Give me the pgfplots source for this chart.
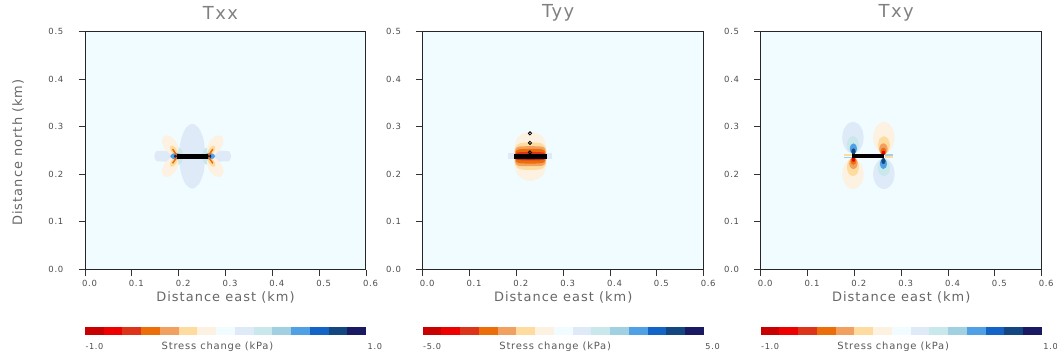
\documentclass[border=0pt]{standalone}
\usepackage{fontspec}
\setmainfont{DejaVu Sans}[LetterSpace=8]
\usepackage{pgfplots}
\pgfplotsset{compat=1.18}
\definecolor{c1}{HTML}{C80000}
\definecolor{c2}{HTML}{EE0000}
\definecolor{c3}{HTML}{DD3318}
\definecolor{c4}{HTML}{EB6E0A}
\definecolor{c5}{HTML}{F2A05F}
\definecolor{c6}{HTML}{FEDCA0}
\definecolor{c7}{HTML}{FDF2E1}
\definecolor{c8}{HTML}{F0FCFF}
\definecolor{c9}{HTML}{DEEAF8}
\definecolor{c10}{HTML}{C8E8EB}
\definecolor{c11}{HTML}{A0D0E1}
\definecolor{c12}{HTML}{50A0E6}
\definecolor{c13}{HTML}{1464C8}
\definecolor{c14}{HTML}{144682}
\definecolor{c15}{HTML}{191964}
\pgfplotsset{
  panel/.style={
    scale only axis, width=281bp, height=238bp, anchor=south west,
    xmin=0, xmax=0.6, ymin=0, ymax=0.5,
    axis background/.style={fill=c8},
    xtick={0,0.1,0.2,0.3,0.4,0.5,0.6},
    ytick={0,0.1,0.2,0.3,0.4,0.5},
    xticklabels={0.0,0.1,0.2,0.3,0.4,0.5,0.6},
    yticklabels={0.0,0.1,0.2,0.3,0.4,0.5},
    tick align=outside, tick pos=left, major tick length=6.5bp,
    tick style={color=black!80, line width=0.8bp},
    axis line style={black!85, line width=1bp},
    ticklabel style={font=\fontsize{8.5}{9}\selectfont, text=black!70},
    xticklabel style={anchor=north, inner sep=0pt, yshift=-4.5bp, xshift=4.5bp},
    yticklabel style={anchor=east, inner sep=0pt, xshift=-15bp},
    title style={font=\fontsize{18}{20}\selectfont, text=black!50, at={(0.5,1)}, anchor=center, yshift=13bp, xshift=-5bp},
    xlabel={Distance east (km)},
    xlabel style={font=\fontsize{13}{15}\selectfont, text=black!60, at={(0.5,0)}, anchor=center, yshift=-27.5bp},
    axis on top, clip=true,
  },
  blob/.style={fill=#1, draw=none, smooth},
  cbar/.style={
    scale only axis, width=281bp, height=8.3bp, anchor=south west,
    xmin=0, xmax=15, ymin=0, ymax=1, hide axis, clip=false,
  },
}
\newcommand{\cbblocks}{%
  \addplot[fill=c1, draw=none] coordinates {(0,0)(1,0)(1,1)(0,1)};
  \addplot[fill=c2, draw=none] coordinates {(1,0)(2,0)(2,1)(1,1)};
  \addplot[fill=c3, draw=none] coordinates {(2,0)(3,0)(3,1)(2,1)};
  \addplot[fill=c4, draw=none] coordinates {(3,0)(4,0)(4,1)(3,1)};
  \addplot[fill=c5, draw=none] coordinates {(4,0)(5,0)(5,1)(4,1)};
  \addplot[fill=c6, draw=none] coordinates {(5,0)(6,0)(6,1)(5,1)};
  \addplot[fill=c7, draw=none] coordinates {(6,0)(7,0)(7,1)(6,1)};
  \addplot[fill=c8, draw=none] coordinates {(7,0)(8,0)(8,1)(7,1)};
  \addplot[fill=c9, draw=none] coordinates {(8,0)(9,0)(9,1)(8,1)};
  \addplot[fill=c10, draw=none] coordinates {(9,0)(10,0)(10,1)(9,1)};
  \addplot[fill=c11, draw=none] coordinates {(10,0)(11,0)(11,1)(10,1)};
  \addplot[fill=c12, draw=none] coordinates {(11,0)(12,0)(12,1)(11,1)};
  \addplot[fill=c13, draw=none] coordinates {(12,0)(13,0)(13,1)(12,1)};
  \addplot[fill=c14, draw=none] coordinates {(13,0)(14,0)(14,1)(13,1)};
  \addplot[fill=c15, draw=none] coordinates {(14,0)(15,0)(15,1)(14,1)};
}
\newcommand{\cblabels}[2]{%
  \node[anchor=base west, font=\fontsize{8.2}{9}\selectfont, text=black!70, xshift=-3bp, yshift=-14.5bp] at (rel axis cs:0,0) {#1};
  \node[anchor=base west, font=\fontsize{8.2}{9}\selectfont, text=black!70, xshift=-1.8bp, yshift=-14.5bp] at (rel axis cs:1,0) {#2};
  \node[anchor=base, font=\fontsize{10}{11}\selectfont, text=black!65, yshift=-14.5bp] at (rel axis cs:0.4715,0) {Stress change (kPa)};
}
\begin{document}
\begin{tikzpicture}
\useasboundingbox (0,0) rectangle (1057bp,360bp);

% ---------------- Txx ----------------
\begin{axis}[panel, at={(85bp,90.5bp)}, title={Txx},
  ylabel={Distance north (km)},
  ylabel style={font=\fontsize{13}{15}\selectfont, text=black!60, at={(0,0.5)}, anchor=center, yshift=67bp, xshift=-2bp}]
\addplot[blob=c9] coordinates {(0.312,0.238)(0.309,0.2465)(0.300,0.249)(0.230,0.249)(0.160,0.249)(0.151,0.2465)(0.148,0.238)(0.151,0.2295)(0.160,0.227)(0.230,0.227)(0.300,0.227)(0.309,0.2295)(0.312,0.238)};
\addplot[blob=c9] coordinates {(0.257,0.238)(0.2533,0.272)(0.243,0.2969)(0.229,0.306)(0.215,0.2969)(0.2048,0.272)(0.201,0.238)(0.2048,0.204)(0.215,0.1791)(0.229,0.170)(0.243,0.1791)(0.2533,0.204)(0.257,0.238)};
\addplot[blob=c10] coordinates {(0.210,0.238)(0.2068,0.2507)(0.199,0.256)(0.1912,0.2507)(0.188,0.238)(0.1912,0.2253)(0.199,0.220)(0.2068,0.2253)(0.210,0.238)};
\addplot[blob=c10] coordinates {(0.250,0.238)(0.2532,0.2507)(0.261,0.256)(0.2688,0.2507)(0.272,0.238)(0.2688,0.2253)(0.261,0.220)(0.2532,0.2253)(0.250,0.238)};
\addplot[blob=c7] coordinates {(0.1684,0.2808)(0.1642,0.2693)(0.1705,0.2531)(0.1835,0.2414)(0.1956,0.2413)(0.1998,0.2527)(0.1935,0.2690)(0.1805,0.2806)(0.1684,0.2808)};
\addplot[blob=c7] coordinates {(0.1684,0.1952)(0.1642,0.2067)(0.1705,0.2229)(0.1835,0.2346)(0.1956,0.2347)(0.1998,0.2233)(0.1935,0.2070)(0.1805,0.1954)(0.1684,0.1952)};
\addplot[blob=c7] coordinates {(0.2916,0.2808)(0.2958,0.2693)(0.2895,0.2531)(0.2765,0.2414)(0.2644,0.2413)(0.2602,0.2527)(0.2665,0.2690)(0.2795,0.2806)(0.2916,0.2808)};
\addplot[blob=c7] coordinates {(0.2916,0.1952)(0.2958,0.2067)(0.2895,0.2229)(0.2765,0.2346)(0.2644,0.2347)(0.2602,0.2233)(0.2665,0.2070)(0.2795,0.1954)(0.2916,0.1952)};
\addplot[blob=c6] coordinates {(0.1832,0.2599)(0.1817,0.2546)(0.1851,0.2466)(0.1913,0.2406)(0.1968,0.2401)(0.1983,0.2454)(0.1949,0.2534)(0.1887,0.2594)(0.1832,0.2599)};
\addplot[blob=c6] coordinates {(0.1832,0.2161)(0.1817,0.2214)(0.1851,0.2294)(0.1913,0.2354)(0.1968,0.2359)(0.1983,0.2306)(0.1949,0.2226)(0.1887,0.2166)(0.1832,0.2161)};
\addplot[blob=c6] coordinates {(0.2768,0.2599)(0.2783,0.2546)(0.2749,0.2466)(0.2687,0.2406)(0.2632,0.2401)(0.2617,0.2454)(0.2651,0.2534)(0.2713,0.2594)(0.2768,0.2599)};
\addplot[blob=c6] coordinates {(0.2768,0.2161)(0.2783,0.2214)(0.2749,0.2294)(0.2687,0.2354)(0.2632,0.2359)(0.2617,0.2306)(0.2651,0.2226)(0.2713,0.2166)(0.2768,0.2161)};
\addplot[blob=c12] coordinates {(0.206,0.238)(0.2025,0.2426)(0.194,0.2445)(0.1855,0.2426)(0.182,0.238)(0.1855,0.2334)(0.194,0.2315)(0.2025,0.2334)(0.206,0.238)};
\addplot[blob=c12] coordinates {(0.254,0.238)(0.2575,0.2426)(0.266,0.2445)(0.2745,0.2426)(0.278,0.238)(0.2745,0.2334)(0.266,0.2315)(0.2575,0.2334)(0.254,0.238)};
\addplot[blob=c15] coordinates {(0.202,0.238)(0.2002,0.2412)(0.196,0.2425)(0.1918,0.2412)(0.190,0.238)(0.1918,0.2348)(0.196,0.2335)(0.2002,0.2348)(0.202,0.238)};
\addplot[blob=c15] coordinates {(0.258,0.238)(0.2598,0.2412)(0.264,0.2425)(0.2682,0.2412)(0.270,0.238)(0.2682,0.2348)(0.264,0.2335)(0.2598,0.2348)(0.258,0.238)};
\addplot[c4, line width=1.5bp] coordinates {(0.196,0.240)(0.187,0.253)};
\addplot[c4, line width=1.5bp] coordinates {(0.196,0.236)(0.187,0.223)};
\addplot[c4, line width=1.5bp] coordinates {(0.264,0.240)(0.273,0.253)};
\addplot[c4, line width=1.5bp] coordinates {(0.264,0.236)(0.273,0.223)};
\addplot[black, line width=5bp] coordinates {(0.197,0.238)(0.263,0.238)};
\end{axis}

% ---------------- Tyy ----------------
\begin{axis}[panel, at={(422.7bp,90.5bp)}, title={Tyy}]
\addplot[fill=c9, draw=none] coordinates {(0.183,0.2325)(0.200,0.2325)(0.200,0.2455)(0.183,0.2455)};
\addplot[fill=c9, draw=none] coordinates {(0.260,0.2325)(0.277,0.2325)(0.277,0.2455)(0.260,0.2455)};
\addplot[blob=c7] coordinates {(0.265,0.238)(0.263,0.262)(0.255,0.280)(0.230,0.290)(0.205,0.280)(0.197,0.262)(0.195,0.238)(0.197,0.214)(0.205,0.196)(0.230,0.186)(0.255,0.196)(0.263,0.214)(0.265,0.238)};
\addplot[blob=c6] coordinates {(0.264,0.238)(0.2625,0.256)(0.253,0.265)(0.230,0.267)(0.207,0.265)(0.1975,0.256)(0.196,0.238)(0.1975,0.220)(0.207,0.211)(0.230,0.209)(0.253,0.211)(0.2625,0.220)(0.264,0.238)};
\addplot[blob=c5] coordinates {(0.263,0.238)(0.262,0.252)(0.255,0.258)(0.230,0.259)(0.205,0.258)(0.198,0.252)(0.197,0.238)(0.198,0.224)(0.205,0.218)(0.230,0.217)(0.255,0.218)(0.262,0.224)(0.263,0.238)};
\addplot[blob=c4] coordinates {(0.262,0.238)(0.261,0.248)(0.254,0.2525)(0.230,0.2535)(0.206,0.2525)(0.199,0.248)(0.198,0.238)(0.199,0.228)(0.206,0.2235)(0.230,0.2225)(0.254,0.2235)(0.261,0.228)(0.262,0.238)};
\addplot[blob=c3] coordinates {(0.260,0.238)(0.259,0.2455)(0.230,0.247)(0.201,0.2455)(0.200,0.238)(0.201,0.2305)(0.230,0.229)(0.259,0.2305)(0.260,0.238)};
\addplot[blob=c1] coordinates {(0.258,0.236)(0.257,0.2325)(0.230,0.2315)(0.203,0.2325)(0.202,0.236)};
\addplot[black, line width=5bp] coordinates {(0.196,0.238)(0.265,0.238)};
\addplot[only marks, mark=o, mark size=1.6bp, mark options={black, line width=0.8bp}] coordinates {(0.229,0.286)(0.229,0.266)(0.229,0.246)};
\end{axis}

% ---------------- Txy ----------------
\begin{axis}[panel, at={(760.7bp,90.5bp)}, title={Txy}]
\addplot[blob=c9] coordinates {(0.220,0.277)(0.2169,0.2935)(0.2085,0.3056)(0.197,0.310)(0.1855,0.3056)(0.1771,0.2935)(0.174,0.277)(0.1771,0.2605)(0.1855,0.2484)(0.197,0.244)(0.2085,0.2484)(0.2169,0.2605)(0.220,0.277)};
\addplot[blob=c7] coordinates {(0.286,0.277)(0.2829,0.2935)(0.2745,0.3056)(0.263,0.310)(0.2515,0.3056)(0.2431,0.2935)(0.240,0.277)(0.2431,0.2605)(0.2515,0.2484)(0.263,0.244)(0.2745,0.2484)(0.2829,0.2605)(0.286,0.277)};
\addplot[blob=c7] coordinates {(0.220,0.201)(0.2169,0.217)(0.2085,0.2287)(0.197,0.233)(0.1855,0.2287)(0.1771,0.217)(0.174,0.201)(0.1771,0.185)(0.1855,0.1733)(0.197,0.169)(0.2085,0.1733)(0.2169,0.185)(0.220,0.201)};
\addplot[blob=c9] coordinates {(0.286,0.201)(0.2829,0.217)(0.2745,0.2287)(0.263,0.233)(0.2515,0.2287)(0.2431,0.217)(0.240,0.201)(0.2431,0.185)(0.2515,0.1733)(0.263,0.169)(0.2745,0.1733)(0.2829,0.185)(0.286,0.201)};
\addplot[blob=c10] coordinates {(0.210,0.262)(0.2062,0.2747)(0.197,0.280)(0.1878,0.2747)(0.184,0.262)(0.1878,0.2493)(0.197,0.244)(0.2062,0.2493)(0.210,0.262)};
\addplot[blob=c10] coordinates {(0.250,0.214)(0.2538,0.2013)(0.263,0.196)(0.2722,0.2013)(0.276,0.214)(0.2722,0.2267)(0.263,0.232)(0.2538,0.2267)(0.250,0.214)};
\addplot[blob=c6] coordinates {(0.210,0.215)(0.2062,0.2284)(0.197,0.234)(0.1878,0.2284)(0.184,0.215)(0.1878,0.2016)(0.197,0.196)(0.2062,0.2016)(0.210,0.215)};
\addplot[blob=c6] coordinates {(0.250,0.261)(0.2538,0.2476)(0.263,0.242)(0.2722,0.2476)(0.276,0.261)(0.2722,0.2744)(0.263,0.280)(0.2538,0.2744)(0.250,0.261)};
\addplot[blob=c12] coordinates {(0.2055,0.254)(0.2033,0.2618)(0.198,0.265)(0.1927,0.2618)(0.1905,0.254)(0.1927,0.2462)(0.198,0.243)(0.2033,0.2462)(0.2055,0.254)};
\addplot[blob=c12] coordinates {(0.2545,0.222)(0.2567,0.2142)(0.262,0.211)(0.2673,0.2142)(0.2695,0.222)(0.2673,0.2298)(0.262,0.233)(0.2567,0.2298)(0.2545,0.222)};
\addplot[blob=c5] coordinates {(0.207,0.223)(0.2044,0.2315)(0.198,0.235)(0.1916,0.2315)(0.189,0.223)(0.1916,0.2145)(0.198,0.211)(0.2044,0.2145)(0.207,0.223)};
\addplot[blob=c5] coordinates {(0.253,0.253)(0.2556,0.2445)(0.262,0.241)(0.2684,0.2445)(0.271,0.253)(0.2684,0.2615)(0.262,0.265)(0.2556,0.2615)(0.253,0.253)};
\addplot[blob=c14] coordinates {(0.2025,0.248)(0.2012,0.2526)(0.198,0.2545)(0.1948,0.2526)(0.1935,0.248)(0.1948,0.2434)(0.198,0.2415)(0.2012,0.2434)(0.2025,0.248)};
\addplot[blob=c14] coordinates {(0.2575,0.228)(0.2588,0.2234)(0.262,0.2215)(0.2652,0.2234)(0.2665,0.228)(0.2652,0.2326)(0.262,0.2345)(0.2588,0.2326)(0.2575,0.228)};
\addplot[blob=c4] coordinates {(0.204,0.228)(0.2022,0.2337)(0.198,0.236)(0.1938,0.2337)(0.192,0.228)(0.1938,0.2223)(0.198,0.220)(0.2022,0.2223)(0.204,0.228)};
\addplot[blob=c4] coordinates {(0.256,0.248)(0.2578,0.2423)(0.262,0.240)(0.2662,0.2423)(0.268,0.248)(0.2662,0.2537)(0.262,0.256)(0.2578,0.2537)(0.256,0.248)};
\addplot[blob=c2] coordinates {(0.2018,0.231)(0.2007,0.2344)(0.198,0.2358)(0.1953,0.2344)(0.1942,0.231)(0.1953,0.2276)(0.198,0.2262)(0.2007,0.2276)(0.2018,0.231)};
\addplot[blob=c2] coordinates {(0.2582,0.245)(0.2593,0.2416)(0.262,0.2402)(0.2647,0.2416)(0.2658,0.245)(0.2647,0.2484)(0.262,0.2498)(0.2593,0.2484)(0.2582,0.245)};
\addplot[c6, line width=2bp] coordinates {(0.178,0.2405)(0.195,0.2405)};
\addplot[c11, line width=1.5bp] coordinates {(0.178,0.2355)(0.195,0.2355)};
\addplot[c11, line width=1.5bp] coordinates {(0.265,0.2405)(0.282,0.2405)};
\addplot[c6, line width=2bp] coordinates {(0.265,0.2355)(0.282,0.2355)};
\addplot[black, line width=4bp] coordinates {(0.195,0.238)(0.263,0.238)};
\end{axis}

% ---------------- colour bars ----------------
\begin{axis}[cbar, at={(85bp,25bp)}]
\cbblocks
\cblabels{-1.0}{1.0}
\end{axis}
\begin{axis}[cbar, at={(422.7bp,25bp)}]
\cbblocks
\cblabels{-5.0}{5.0}
\end{axis}
\begin{axis}[cbar, at={(760.7bp,25bp)}]
\cbblocks
\cblabels{-1.0}{1.0}
\end{axis}
\end{tikzpicture}
\end{document}
